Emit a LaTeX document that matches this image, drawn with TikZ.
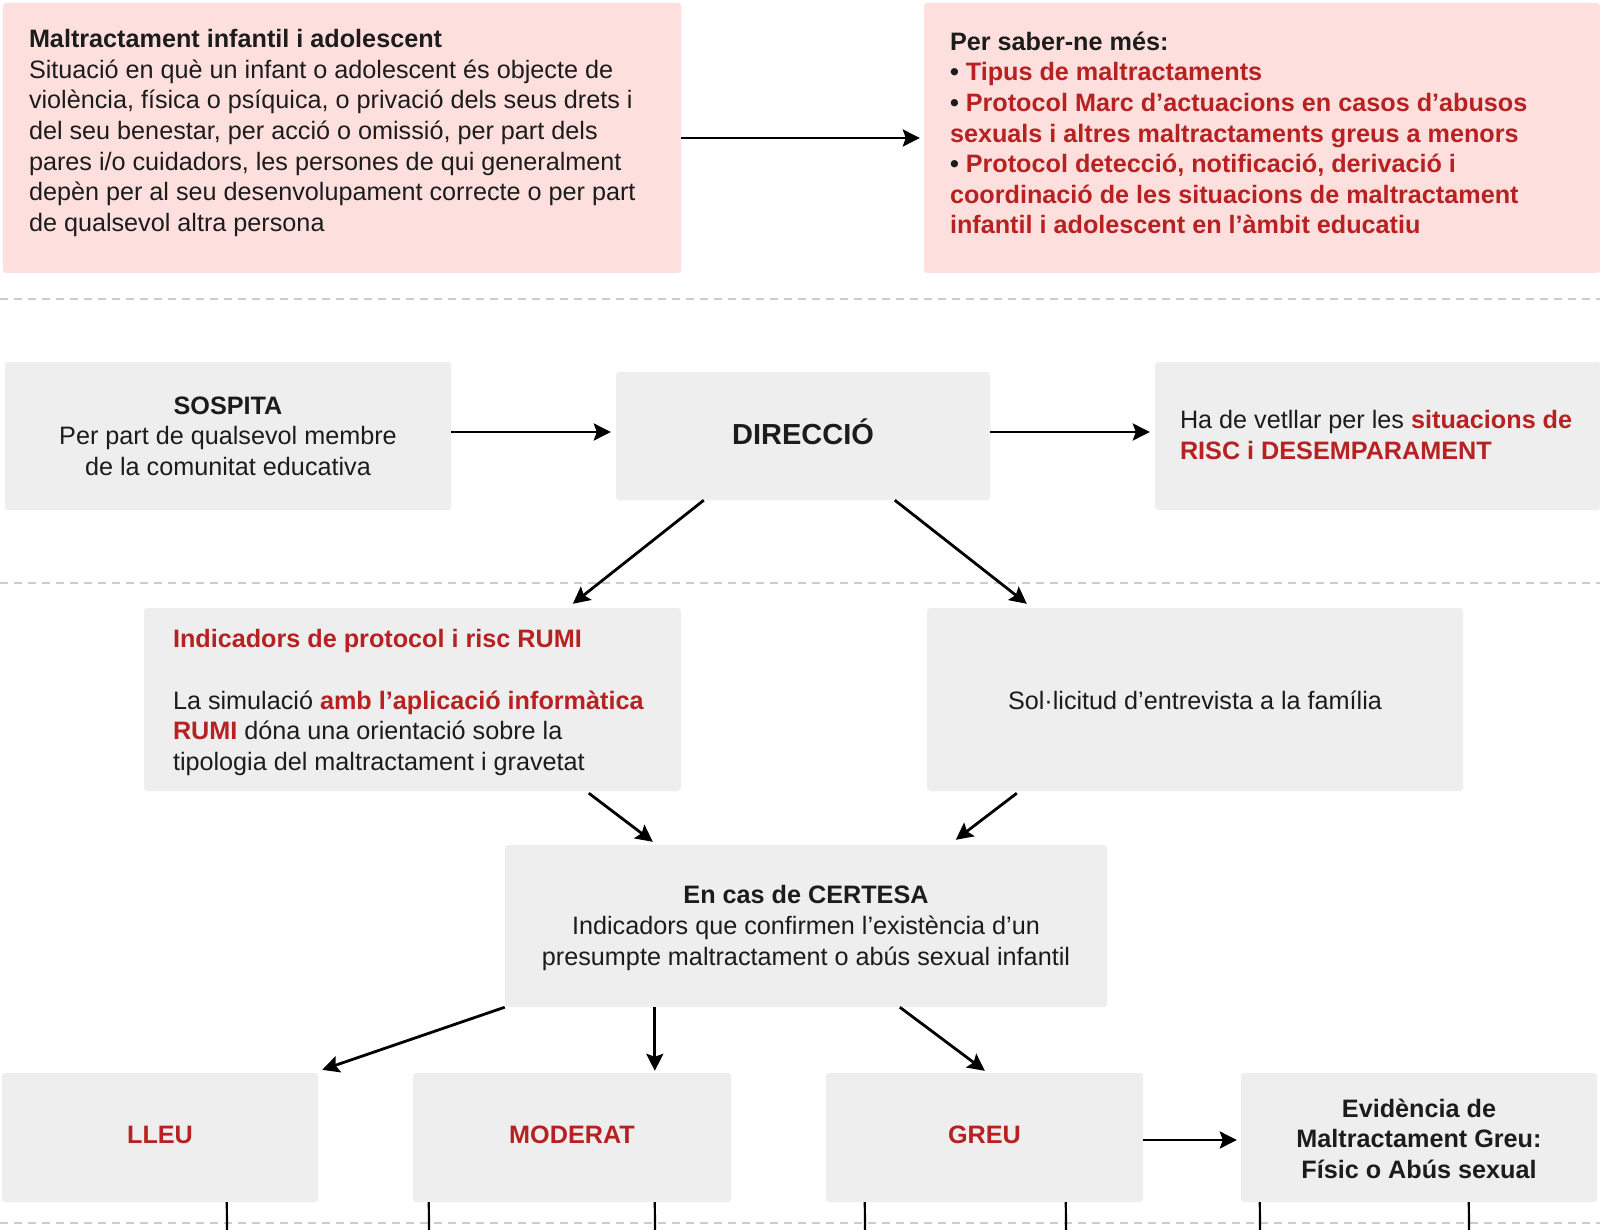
\documentclass[tikz,border=0pt]{standalone}
\usepackage{fontspec}
\setmainfont{Liberation Sans}
\usetikzlibrary{arrows.meta}
\definecolor{pinkbg}{RGB}{253,223,221}
\definecolor{graybg}{RGB}{238,238,238}
\definecolor{redtxt}{RGB}{183,33,33}
\definecolor{dashcol}{RGB}{204,204,204}
\definecolor{txt}{RGB}{28,28,28}
\newcommand{\bodyfs}{\fontsize{25.2}{30.6}\selectfont}
\newcommand{\rd}[1]{\textcolor{redtxt}{\textbf{#1}}}
\tikzset{
  boxbase/.style={rounded corners=3pt, draw=none, inner sep=0pt},
  pinkbox/.style={boxbase, fill=pinkbg},
  graybox/.style={boxbase, fill=graybg},
  lbl/.style={text=txt, font=\bodyfs, inner sep=0pt},
  conn/.style={line width=2.8pt, draw=black, -{Stealth[length=17pt,width=17pt,inset=3pt]}},
  tail/.style={line width=2.2pt, draw=black},
  sep/.style={line width=2pt, draw=dashcol, dash pattern=on 8pt off 6pt}
}
\begin{document}
\begin{tikzpicture}[x=1pt,y=-1pt]
\useasboundingbox (0,0) rectangle (1600,1230);
\fill[white] (0,0) rectangle (1600,1230);

% separators
\draw[sep] (0,299) -- (1600,299);
\draw[sep] (0,583) -- (1600,583);
\draw[sep] (0,1223) -- (1600,1223);

% boxes
\node[pinkbox, minimum width=678pt, minimum height=270pt] (def) at (342,138) {};
\node[pinkbox, minimum width=676pt, minimum height=270pt] (more) at (1262,138) {};
\node[graybox, minimum width=446pt, minimum height=148pt] (sospita) at (228,436) {};
\node[graybox, minimum width=374pt, minimum height=128pt] (direccio) at (803,436) {};
\node[graybox, minimum width=445pt, minimum height=148pt] (risc) at (1377.5,436) {};
\node[graybox, minimum width=537pt, minimum height=183pt] (rumi) at (412.5,699.5) {};
\node[graybox, minimum width=536pt, minimum height=183pt] (soll) at (1195,699.5) {};
\node[graybox, minimum width=602pt, minimum height=162pt] (certesa) at (806,926) {};
\node[graybox, minimum width=316pt, minimum height=129pt] (lleu) at (160,1137.5) {};
\node[graybox, minimum width=318pt, minimum height=129pt] (moderat) at (572,1137.5) {};
\node[graybox, minimum width=317pt, minimum height=129pt] (greu) at (984.5,1137.5) {};
\node[graybox, minimum width=356pt, minimum height=129pt] (evid) at (1419,1137.5) {};

% texts
\node[lbl, anchor=west, align=left] (deft) at ([xshift=26pt,yshift=5pt]def.west)
 {\textbf{Maltractament infantil i adolescent}\\
  Situació en què un infant o adolescent és objecte de\\
  violència, física o psíquica, o privació dels seus drets i\\
  del seu benestar, per acció o omissió, per part dels\\
  pares i/o cuidadors, les persones de qui generalment\\
  depèn per al seu desenvolupament correcte o per part\\
  de qualsevol altra persona};
\node[lbl, anchor=west, align=left] (moret) at ([xshift=26pt,yshift=5pt]more.west)
 {\textbf{Per saber-ne més:}\\
  \textbf{•} \rd{Tipus de maltractaments}\\
  \textbf{•} \rd{Protocol Marc d’actuacions en casos d’abusos}\\
  \rd{sexuals i altres maltractaments greus a menors}\\
  \textbf{•} \rd{Protocol detecció, notificació, derivació i}\\
  \rd{coordinació de les situacions de maltractament}\\
  \rd{infantil i adolescent en l’àmbit educatiu}};
\node[lbl, align=center] (sospitat) at (sospita.center)
 {\textbf{SOSPITA}\\Per part de qualsevol membre\\de la comunitat educativa};
\node[lbl, font=\fontsize{29}{34}\selectfont\bfseries] (direcciot) at ([yshift=4pt]direccio.center) {DIRECCIÓ};
\node[lbl, anchor=west, align=left] (risct) at ([xshift=25pt,yshift=1pt]risc.west)
 {Ha de vetllar per les \rd{situacions de}\\\rd{RISC i DESEMPARAMENT}};
\node[lbl, anchor=west, align=left] (rumit) at ([xshift=29pt,yshift=-3pt]rumi.west)
 {\rd{Indicadors de protocol i risc RUMI}\\[30.6pt]
  La simulació \rd{amb l’aplicació informàtica}\\
  \rd{RUMI} dóna una orientació sobre la\\
  tipologia del maltractament i gravetat};
\node[lbl] (sollt) at ([yshift=-1pt]soll.center) {Sol·licitud d’entrevista a la família};
\node[lbl, align=center] (certesat) at ([yshift=-2pt]certesa.center)
 {\textbf{En cas de CERTESA}\\Indicadors que confirmen l’existència d’un\\presumpte maltractament o abús sexual infantil};
\node[lbl] (lleut) at ([yshift=3pt]lleu.center) {\rd{LLEU}};
\node[lbl] (moderatt) at ([yshift=3pt]moderat.center) {\rd{MODERAT}};
\node[lbl] (greut) at ([yshift=3pt]greu.center) {\rd{GREU}};
\node[lbl, align=center, font=\bodyfs\bfseries] (evidt) at ([yshift=-1pt]evid.center)
 {Evidència de\\Maltractament Greu:\\Físic o Abús sexual};

% connectors
\draw[conn] (def.east) -- ([xshift=-4pt]more.west);
\draw[conn] ([yshift=4pt]sospita.east) -- ([xshift=-5pt,yshift=4pt]direccio.west);
\draw[conn] ([yshift=4pt]direccio.east) -- ([xshift=-5pt,yshift=4pt]risc.west);
\draw[conn] ([xshift=88pt]direccio.south west) -- ([xshift=429pt,yshift=4pt]rumi.north west);
\draw[conn] ([xshift=279pt]direccio.south west) -- ([xshift=100pt,yshift=4pt]soll.north west);
\draw[conn] ([xshift=445pt,yshift=-2pt]rumi.south west) -- ([xshift=148pt,yshift=3pt]certesa.north west);
\draw[conn] ([xshift=90pt,yshift=-2pt]soll.south west) -- ([xshift=451pt,yshift=5pt]certesa.north west);
\draw[conn] (certesa.south west) -- ([xshift=4pt,yshift=3pt]lleu.north east);
\draw[conn] ([xshift=150pt]certesa.south west) -- ([xshift=242pt,yshift=2pt]moderat.north west);
\draw[conn] ([xshift=395pt]certesa.south west) -- ([xshift=159pt,yshift=2pt]greu.north west);
\draw[conn] ([yshift=-2.5pt]greu.east) -- ([xshift=-4pt,yshift=-2.5pt]evid.west);

% tails leaving the picture
\coordinate (t1) at (227,1230);
\coordinate (t2) at (429,1230);
\coordinate (t3) at (655,1230);
\coordinate (t4) at (865,1230);
\coordinate (t5) at (1066,1230);
\coordinate (t6) at (1260,1230);
\coordinate (t7) at (1469,1230);
\draw[tail] ([xshift=225pt]lleu.south west) -- (t1);
\draw[tail] ([xshift=16pt]moderat.south west) -- (t2);
\draw[tail] ([xshift=242pt]moderat.south west) -- (t3);
\draw[tail] ([xshift=39pt]greu.south west) -- (t4);
\draw[tail] ([xshift=240pt]greu.south west) -- (t5);
\draw[tail] ([xshift=19pt]evid.south west) -- (t6);
\draw[tail] ([xshift=228pt]evid.south west) -- (t7);
\end{tikzpicture}
\end{document}
